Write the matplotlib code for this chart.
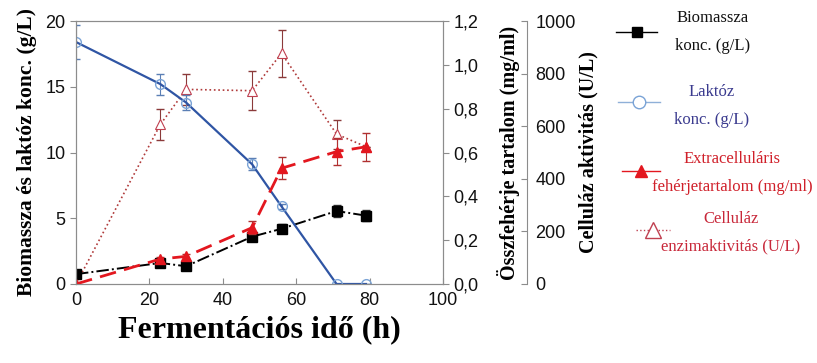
import numpy as np
import matplotlib
matplotlib.use('Agg')
import matplotlib.pyplot as plt
from matplotlib.lines import Line2D

# fermentation time (h)
ido = [0, 23, 30, 48, 56, 71, 79]

biomassza = [0.75, 1.6, 1.35, 3.6, 4.2, 5.55, 5.2]
biomassza_err = [0.1, 0.15, 0.15, 0.25, 0.35, 0.45, 0.4]

laktoz = [18.4, 15.2, 13.8, 9.1, 5.9, 0.0, 0.0]
laktoz_err = [1.3, 0.8, 0.6, 0.45, 0.2, 0.0, 0.0]

feherje = [0.0, 0.114, 0.126, 0.257, 0.528, 0.604, 0.626]
feherje_err = [0.0, 0.01, 0.01, 0.03, 0.05, 0.06, 0.065]

cellulaz = [0, 607, 740, 735, 877, 570, 522]
cellulaz_err = [0, 60, 60, 73, 90, 55, 0]

x_ticks = [0, 20, 40, 60, 80, 100]
left_ticks = [0, 5, 10, 15, 20]
prot_ticks = [0.0, 0.2, 0.4, 0.6, 0.8, 1.0, 1.2]
prot_labels = ['0,0', '0,2', '0,4', '0,6', '0,8', '1,0', '1,2']
cell_ticks = [0, 200, 400, 600, 800, 1000]

legend_labels = ['Biomassza\nkonc. (g/L)', 'Laktóz\nkonc. (g/L)',
                 'Extracelluláris\nfehérjetartalom (mg/ml)',
                 'Celluláz\nenzimaktivitás (U/L)']

W, H = 817, 363
grey = '#8c8c8c'
serif = ['Liberation Serif', 'DejaVu Serif']
sans = ['Liberation Sans', 'DejaVu Sans']

plt.rcParams['font.family'] = sans

fig = plt.figure(figsize=(W / 100, H / 100), dpi=100)
ax = fig.add_axes([76 / W, 79 / H, 367 / W, 263 / H])
ax2 = ax.twinx()
ax3 = ax.twinx()

# cellulase (dotted, open triangles)
ax3.errorbar(ido, cellulaz, yerr=cellulaz_err, fmt='none', ecolor='#8b3a3a',
             elinewidth=0.8, capsize=3, zorder=2)
ax3.plot(ido, cellulaz, ls=':', color='#b03a3a', lw=1.2, marker='^',
         markersize=7, markerfacecolor='white', markeredgecolor='#c04050',
         markeredgewidth=0.8)

# biomass & lactose on left axis
ax.errorbar(ido, biomassza, yerr=biomassza_err, fmt='none', ecolor='#333333',
            elinewidth=0.8, capsize=3)
ax.plot(ido, biomassza, ls='-.', color='black', lw=1.4, marker='s',
        markersize=6.5)
ax.errorbar(ido, laktoz, yerr=laktoz_err, fmt='none', ecolor='#5b7fb5',
            elinewidth=0.8, capsize=3)
ax.plot(ido, laktoz, ls='-', color='#2f55a4', lw=1.6, marker='o',
        markersize=7, markerfacecolor='none', markeredgecolor='#7aa3d6',
        markeredgewidth=1.0)

# protein (dashed red, filled triangles)
ax2.errorbar(ido, feherje, yerr=feherje_err, fmt='none', ecolor='#b03030',
             elinewidth=0.8, capsize=3)
ax2.plot(ido, feherje, ls=(0, (6, 3)), color='#e3171f', lw=2.0,
         marker='^', markersize=7.5)

ax.set_zorder(2)
ax.patch.set_visible(False)
ax2.set_zorder(3)
ax3.set_zorder(1)

ax.set_xlim(0, 100)
ax.set_ylim(0, 20)
ax.set_xticks(x_ticks)
ax.set_yticks(left_ticks)
ax2.set_ylim(0, 1.2)
ax2.set_yticks(prot_ticks)
ax2.set_yticklabels(prot_labels)
ax3.set_ylim(0, 1000)
ax3.set_yticks(cell_ticks)

for a in (ax, ax2, ax3):
    for s in a.spines.values():
        s.set_color(grey)
    a.tick_params(labelsize=13, colors=grey, labelcolor='#111111', length=4)

ax.tick_params(axis='x', direction='in', pad=6)
ax.tick_params(axis='y', direction='out')
ax2.tick_params(axis='y', direction='out')
ax3.tick_params(axis='y', direction='in', pad=6)
ax3.spines['right'].set_position(('axes', 451 / 367))
ax3.spines['top'].set_visible(False)
ax3.spines['left'].set_visible(False)
ax3.spines['bottom'].set_visible(False)

ax.set_xlabel('Fermentációs idő (h)', family=serif, fontweight='bold',
              fontsize=23, labelpad=4)
ax.set_ylabel('Biomassza és laktóz konc. (g/L)', family=serif,
              fontweight='bold', fontsize=15.5, labelpad=6)
ax2.set_ylabel('Összfehérje tartalom (mg/ml)', family=serif,
               fontweight='bold', fontsize=14.5, labelpad=13)
ax3.set_ylabel('Celluláz aktivitás (U/L)', family=serif,
               fontweight='bold', fontsize=14.5, labelpad=2)

# hand-built legend at the right
line_styles = [dict(ls='-', color='black'), dict(ls='-', color='#8fb0d8'),
               dict(ls='-', color='#e3171f'), dict(ls=':', color='#c04050')]
marker_styles = [
    dict(marker='s', markersize=7, color='black'),
    dict(marker='o', markersize=9, markerfacecolor='white',
         markeredgecolor='#7aa3d6'),
    dict(marker='^', markersize=9, color='#e3171f'),
    dict(marker='^', markersize=11, markerfacecolor='white',
         markeredgecolor='#c04050'),
]
handle_x = [(616, 657), (618, 660), (622, 660), (636, 670)]
handle_y = [32, 102, 171, 230]
text_xy = [(713, 32), (712, 106), (732, 173), (731, 233)]
text_colors = ['#111111', '#3b3b8f', '#d0202a', '#c8283a']

for lab, ls_, ms, hx, hy, (tx, ty), tc in zip(legend_labels, line_styles,
                                               marker_styles, handle_x,
                                               handle_y, text_xy, text_colors):
    yy = 1 - hy / H
    fig.add_artist(Line2D([hx[0] / W, hx[1] / W], [yy, yy], lw=1.0,
                          transform=fig.transFigure, **ls_))
    fig.add_artist(Line2D([(hx[0] + hx[1]) / 2 / W], [yy], ls='none',
                          transform=fig.transFigure, **ms))
    fig.text(tx / W, 1 - ty / H, lab, ha='center', va='center',
             multialignment='center', family=serif, fontsize=12,
             linespacing=1.95, color=tc)

fig.savefig('out.png', dpi=100)
